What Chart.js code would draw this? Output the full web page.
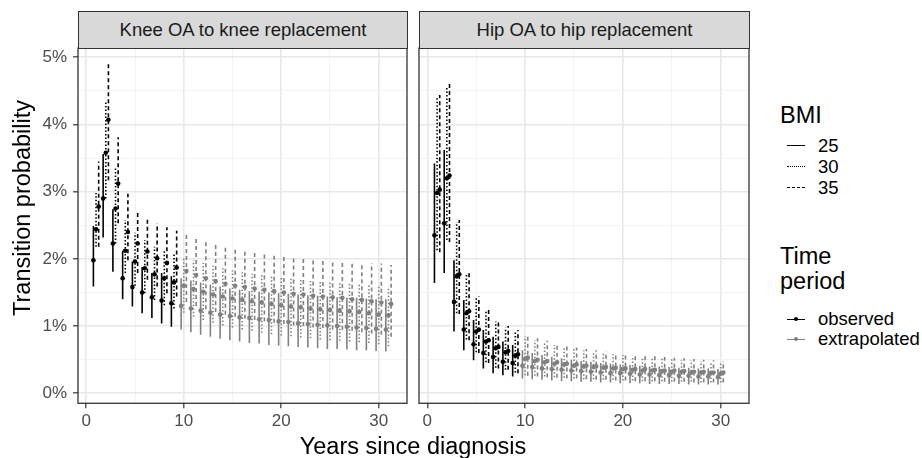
<!DOCTYPE html>
<html>
<head>
<meta charset="utf-8">
<script src="https://cdn.jsdelivr.net/npm/chart.js@4.4.0/dist/chart.umd.min.js"></script>
<style>
  body { margin: 0; background: #fff; font-family: "Liberation Sans", Arial, sans-serif; }
  #wrap { position: relative; width: 922px; height: 458px; overflow: hidden; }
  canvas { position: absolute; top: 40px; }
  .strip { position: absolute; top: 11px; height: 38px; box-sizing: border-box; background: #D9D9D9;
           border: 1.3px solid #333; color: #1A1A1A; font-size: 18.5px; text-align: center; line-height: 35px; }
  .title { position: absolute; color: #000; font-size: 23.5px; white-space: nowrap; }
  .lab { position: absolute; color: #000; font-size: 18.5px; line-height: 20px; white-space: nowrap; }
  .key { position: absolute; width: 18px; height: 0; }
  .dot { position: absolute; width: 4px; height: 4px; border-radius: 2px; }
</style>
</head>
<body>
<div id="wrap">
  <canvas id="knee" width="414" height="418" style="left:0px"></canvas>
  <canvas id="hip" width="342" height="418" style="left:412px"></canvas>

  <div class="strip" style="left:78px; width:330px">Knee OA to knee replacement</div>
  <div class="strip" style="left:419px; width:331px">Hip OA to hip replacement</div>

  <div class="title" style="left:-128px; top:193px; width:300px; height:30px; line-height:30px; text-align:center; transform:rotate(-90deg)">Transition probability</div>
  <div class="title" style="left:263px; top:432px; width:300px; line-height:28px; text-align:center">Years since diagnosis</div>

  <!-- legend: BMI -->
  <div class="title" style="left:780px; top:101px; line-height:28px">BMI</div>
  <div class="key" style="left:787px; top:145px; border-top:1.5px solid #000"></div>
  <div class="lab" style="left:818px; top:136px">25</div>
  <div class="key" style="left:787px; top:166px; border-top:1.5px dotted #000"></div>
  <div class="lab" style="left:818px; top:157px">30</div>
  <div class="key" style="left:787px; top:187px; border-top:1.5px dashed #000"></div>
  <div class="lab" style="left:818px; top:178px">35</div>

  <!-- legend: time period -->
  <div class="title" style="left:780px; top:244px; line-height:25px">Time<br>period</div>
  <div class="key" style="left:787px; top:319px; border-top:1.5px solid #000"></div>
  <div class="dot" style="left:794px; top:317px; background:#000"></div>
  <div class="lab" style="left:818px; top:309px">observed</div>
  <div class="key" style="left:787px; top:339px; border-top:1.5px solid #808080"></div>
  <div class="dot" style="left:794px; top:337px; background:#808080"></div>
  <div class="lab" style="left:818px; top:329px">extrapolated</div>
</div>

<script>
// years since diagnosis
const kneeYears = [1, 2, 3, 4, 5, 6, 7, 8, 9, 10, 11, 12, 13, 14, 15, 16, 17, 18, 19, 20,
                   21, 22, 23, 24, 25, 26, 27, 28, 29, 30, 31];
const hipYears = [1, 2, 3, 4, 5, 6, 7, 8, 9, 10, 11, 12, 13, 14, 15, 16, 17, 18, 19, 20,
                  21, 22, 23, 24, 25, 26, 27, 28, 29, 30];
const lastObservedYear = 9;

// knee OA -> knee replacement, transition probability in %
const knee25 = [1.98, 2.90, 2.23, 1.71, 1.58, 1.50, 1.43, 1.38, 1.34, 1.30, 1.26, 1.23, 1.20, 1.17, 1.15, 1.13,
                1.12, 1.10, 1.09, 1.07, 1.06, 1.04, 1.03, 1.02, 1.01, 1.00, 0.99, 0.98, 0.97, 0.96, 0.95];
const knee25Lo = [1.59, 2.32, 1.81, 1.40, 1.29, 1.19, 1.12, 1.04, 0.99, 0.95, 0.91, 0.87, 0.84, 0.81, 0.79, 0.77,
                  0.75, 0.74, 0.72, 0.71, 0.70, 0.69, 0.68, 0.67, 0.66, 0.66, 0.65, 0.64, 0.64, 0.63, 0.62];
const knee25Hi = [2.49, 3.56, 2.74, 2.12, 1.96, 1.88, 1.79, 1.79, 1.74, 1.71, 1.68, 1.65, 1.62, 1.59, 1.56, 1.54,
                  1.52, 1.51, 1.50, 1.49, 1.48, 1.47, 1.46, 1.45, 1.44, 1.43, 1.42, 1.42, 1.41, 1.40, 1.40];
const knee30 = [2.44, 3.58, 2.75, 2.12, 1.96, 1.86, 1.77, 1.71, 1.65, 1.60, 1.55, 1.51, 1.47, 1.44, 1.41, 1.39,
                1.37, 1.35, 1.33, 1.31, 1.29, 1.28, 1.26, 1.25, 1.24, 1.23, 1.22, 1.21, 1.19, 1.17, 1.16];
const knee30Lo = [2.18, 2.90, 2.23, 1.79, 1.60, 1.49, 1.39, 1.31, 1.26, 1.20, 1.14, 1.09, 1.05, 1.01, 0.98, 0.95,
                  0.93, 0.90, 0.88, 0.86, 0.85, 0.83, 0.82, 0.80, 0.79, 0.78, 0.77, 0.76, 0.75, 0.73, 0.70];
const knee30Hi = [2.98, 4.34, 3.35, 2.58, 2.39, 2.28, 2.18, 2.13, 2.08, 2.03, 1.98, 1.94, 1.90, 1.86, 1.83, 1.80,
                  1.78, 1.76, 1.74, 1.72, 1.70, 1.69, 1.67, 1.66, 1.65, 1.64, 1.63, 1.62, 1.61, 1.60, 1.59];
const knee35 = [2.78, 4.07, 3.12, 2.40, 2.23, 2.11, 2.01, 1.94, 1.87, 1.82, 1.76, 1.71, 1.67, 1.63, 1.60, 1.58,
                1.56, 1.54, 1.52, 1.50, 1.48, 1.47, 1.45, 1.44, 1.43, 1.42, 1.40, 1.39, 1.37, 1.35, 1.33];
const knee35Lo = [2.18, 3.17, 2.53, 1.98, 1.79, 1.69, 1.59, 1.49, 1.44, 1.36, 1.30, 1.25, 1.21, 1.17, 1.14, 1.11,
                  1.09, 1.07, 1.05, 1.03, 1.01, 1.00, 0.98, 0.97, 0.95, 0.94, 0.93, 0.91, 0.89, 0.87, 0.84];
const knee35Hi = [3.45, 4.91, 3.81, 2.97, 2.72, 2.60, 2.53, 2.47, 2.42, 2.37, 2.31, 2.26, 2.22, 2.18, 2.15, 2.13,
                  2.11, 2.09, 2.07, 2.06, 2.04, 2.03, 2.01, 2.00, 1.99, 1.97, 1.96, 1.95, 1.94, 1.93, 1.91];

// hip OA -> hip replacement
const hip25 = [2.35, 2.53, 1.36, 0.95, 0.73, 0.60, 0.54, 0.47, 0.45, 0.41, 0.39, 0.37, 0.36, 0.35, 0.34,
               0.33, 0.32, 0.31, 0.30, 0.30, 0.29, 0.28, 0.28, 0.27, 0.27, 0.26, 0.26, 0.25, 0.25, 0.24];
const hip25Lo = [1.64, 1.79, 0.92, 0.64, 0.49, 0.37, 0.30, 0.27, 0.25, 0.22, 0.21, 0.20, 0.19, 0.18, 0.18,
                 0.17, 0.17, 0.16, 0.16, 0.15, 0.15, 0.15, 0.14, 0.14, 0.14, 0.14, 0.13, 0.13, 0.13, 0.13];
const hip25Hi = [3.42, 3.62, 1.98, 1.39, 1.09, 0.94, 0.84, 0.77, 0.72, 0.64, 0.60, 0.57, 0.54, 0.52, 0.50,
                 0.48, 0.47, 0.45, 0.44, 0.43, 0.42, 0.41, 0.40, 0.40, 0.39, 0.38, 0.38, 0.37, 0.37, 0.36];
const hip30 = [2.98, 3.20, 1.74, 1.19, 0.92, 0.77, 0.67, 0.61, 0.56, 0.51, 0.48, 0.46, 0.44, 0.43, 0.41,
               0.40, 0.39, 0.38, 0.37, 0.36, 0.35, 0.34, 0.34, 0.33, 0.32, 0.32, 0.31, 0.31, 0.30, 0.29];
const hip30Lo = [2.13, 2.28, 1.19, 0.80, 0.61, 0.46, 0.38, 0.35, 0.31, 0.27, 0.26, 0.25, 0.24, 0.23, 0.22,
                 0.21, 0.21, 0.20, 0.20, 0.19, 0.19, 0.18, 0.18, 0.18, 0.17, 0.17, 0.17, 0.16, 0.16, 0.16];
const hip30Hi = [4.40, 4.55, 2.55, 1.76, 1.42, 1.22, 1.07, 0.98, 0.92, 0.85, 0.79, 0.75, 0.72, 0.69, 0.66,
                 0.64, 0.62, 0.60, 0.58, 0.57, 0.56, 0.54, 0.53, 0.52, 0.51, 0.50, 0.49, 0.48, 0.47, 0.46];
const hip35 = [3.03, 3.24, 1.77, 1.22, 0.95, 0.79, 0.69, 0.63, 0.58, 0.53, 0.50, 0.48, 0.46, 0.44, 0.43,
               0.41, 0.40, 0.39, 0.38, 0.37, 0.36, 0.36, 0.35, 0.34, 0.34, 0.33, 0.32, 0.32, 0.31, 0.31];
const hip35Lo = [2.10, 2.25, 1.18, 0.79, 0.60, 0.45, 0.37, 0.35, 0.30, 0.26, 0.25, 0.24, 0.23, 0.22, 0.22,
                 0.21, 0.20, 0.20, 0.19, 0.19, 0.18, 0.18, 0.18, 0.17, 0.17, 0.17, 0.16, 0.16, 0.16, 0.16];
const hip35Hi = [4.44, 4.61, 2.58, 1.79, 1.44, 1.24, 1.09, 1.00, 0.94, 0.87, 0.82, 0.78, 0.74, 0.71, 0.68,
                 0.66, 0.64, 0.62, 0.60, 0.59, 0.57, 0.56, 0.55, 0.54, 0.53, 0.52, 0.51, 0.50, 0.49, 0.48];

const xTicks = [0, 5, 10, 15, 20, 25, 30];
const yTicks = [0, 0.5, 1, 1.5, 2, 2.5, 3, 3.5, 4, 4.5, 5];

const OBS = '#000000';
const EXT = '#808080';
const dodge = { '25': -0.27, '30': 0, '35': 0.27 };
const dashes = { '25': [], '30': [1.5, 2], '35': [4, 3] };

// one line dataset per bmi/period holding all the vertical ranges, plus the points
function panelDatasets(years, series) {
  const sets = [];
  series.forEach(s => {
    ['observed', 'extrapolated'].forEach(period => {
      const seg = [], pts = [];
      years.forEach((yr, i) => {
        if ((yr <= lastObservedYear) !== (period === 'observed')) return;
        const x = yr + dodge[s.bmi];
        seg.push({ x: x, y: s.lo[i] }, { x: x, y: s.hi[i] }, { x: x, y: null });
        pts.push({ x: x, y: s.mid[i] });
      });
      const col = period === 'observed' ? OBS : EXT;
      sets.push({ type: 'line', data: seg, borderColor: col, borderWidth: 1.6, borderDash: dashes[s.bmi],
                  pointRadius: 0, spanGaps: false, fill: false, tension: 0 });
      sets.push({ type: 'scatter', data: pts, backgroundColor: col, borderColor: col,
                  pointRadius: 2.3, borderWidth: 0 });
    });
  });
  return sets;
}

const panelBorder = {
  id: 'panelBorder',
  afterDraw(chart) {
    const a = chart.chartArea, c = chart.ctx;
    c.save();
    c.strokeStyle = '#333333';
    c.lineWidth = 1.3;
    c.strokeRect(a.left, a.top, a.right - a.left, a.bottom - a.top);
    c.restore();
  }
};

const isMajorX = v => v % 10 === 0;
const isMajorY = v => Number.isInteger(v);

function makeScales(showY, yWidth) {
  return {
    x: {
      type: 'linear', min: -0.85, max: 32.9,
      afterBuildTicks: sc => { sc.ticks = xTicks.map(v => ({ value: v })); },
      afterFit: sc => { sc.height = 54.7; sc.paddingLeft = 0; sc.paddingRight = 0; },
      border: { display: false },
      grid: {
        color: ctx => (ctx.tick && isMajorX(ctx.tick.value)) ? '#E8E8E8' : '#F0F0F0',
        lineWidth: ctx => (ctx.tick && isMajorX(ctx.tick.value)) ? 1.6 : 0.8,
        tickColor: ctx => (ctx.tick && isMajorX(ctx.tick.value)) ? '#333333' : 'rgba(0,0,0,0)',
        tickLength: 5, tickWidth: 1.2
      },
      ticks: {
        callback: v => isMajorX(v) ? String(v) : '',
        color: '#4D4D4D', font: { family: 'Liberation Sans', size: 17 },
        padding: 3, maxRotation: 0, autoSkip: false
      }
    },
    y: {
      type: 'linear', min: -0.149, max: 5.138,
      afterBuildTicks: sc => { sc.ticks = yTicks.map(v => ({ value: v })); },
      afterFit: sc => { sc.width = yWidth; sc.paddingTop = 0; sc.paddingBottom = 0; },
      border: { display: false },
      grid: {
        color: ctx => (ctx.tick && isMajorY(ctx.tick.value)) ? '#E8E8E8' : '#F0F0F0',
        lineWidth: ctx => (ctx.tick && isMajorY(ctx.tick.value)) ? 1.6 : 0.8,
        tickColor: ctx => (ctx.tick && isMajorY(ctx.tick.value)) ? '#333333' : 'rgba(0,0,0,0)',
        drawTicks: showY, tickLength: 5, tickWidth: 1.2
      },
      ticks: {
        display: showY,
        callback: v => isMajorY(v) ? v + '%' : '',
        color: '#4D4D4D', font: { family: 'Liberation Sans', size: 17 },
        padding: 6, autoSkip: false
      }
    }
  };
}

function makeChart(id, years, series, showY, yWidth, padRight) {
  return new Chart(document.getElementById(id), {
    type: 'scatter',
    data: { datasets: panelDatasets(years, series) },
    options: {
      responsive: false, animation: false, devicePixelRatio: 1, events: [],
      layout: { padding: { left: 0, top: 8, right: padRight, bottom: 0 } },
      plugins: { legend: { display: false }, tooltip: { enabled: false } },
      scales: makeScales(showY, yWidth)
    },
    plugins: [panelBorder]
  });
}

makeChart('knee', kneeYears, [
  { bmi: '25', mid: knee25, lo: knee25Lo, hi: knee25Hi },
  { bmi: '30', mid: knee30, lo: knee30Lo, hi: knee30Hi },
  { bmi: '35', mid: knee35, lo: knee35Lo, hi: knee35Hi }
], true, 78, 7);

makeChart('hip', hipYears, [
  { bmi: '25', mid: hip25, lo: hip25Lo, hi: hip25Hi },
  { bmi: '30', mid: hip30, lo: hip30Lo, hi: hip30Hi },
  { bmi: '35', mid: hip35, lo: hip35Lo, hi: hip35Hi }
], false, 7, 5);
</script>
</body>
</html>
